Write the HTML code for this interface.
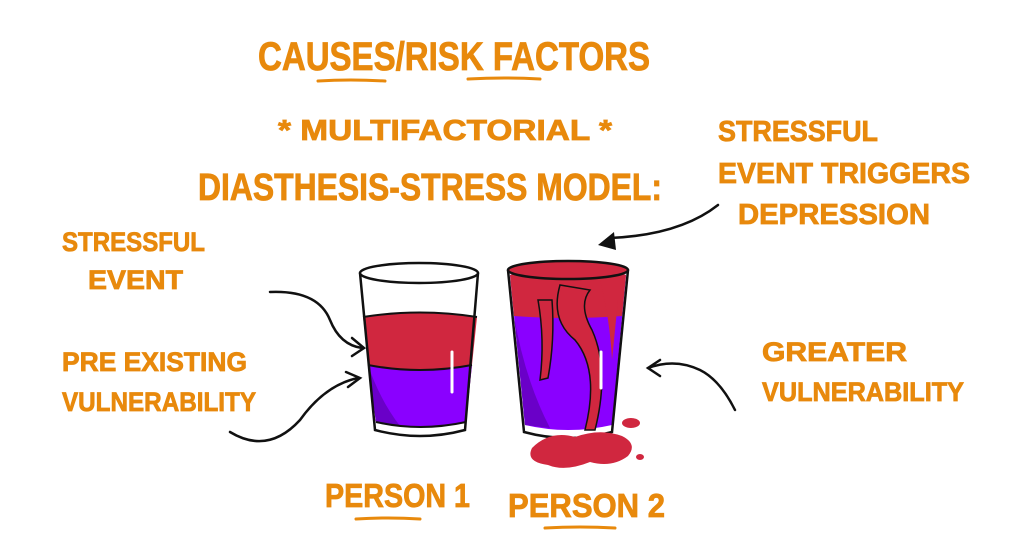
<!DOCTYPE html>
<html><head><meta charset="utf-8"><style>
html,body{margin:0;padding:0;background:#fff;}
svg{display:block}
text{font-family:"Liberation Sans",sans-serif;font-weight:bold;fill:#E8890C;stroke:#E8890C;stroke-width:0.8;}
</style></head><body>
<svg width="1024" height="542" viewBox="0 0 1024 542" xmlns="http://www.w3.org/2000/svg">
<g stroke="#E8890C" stroke-width="3" stroke-linecap="round" fill="none">
<path d="M318 81 Q350 79 385 81"/>
<path d="M468 79 Q505 77 540 79"/>
<path d="M356 519 Q388 517 420 519"/>
<path d="M545 528 Q580 526 615 528"/>
</g>
<text x="258" y="70" font-size="40" textLength="392" lengthAdjust="spacingAndGlyphs">CAUSES/RISK FACTORS</text>
<text x="278" y="140" font-size="29" textLength="334" lengthAdjust="spacingAndGlyphs">* MULTIFACTORIAL *</text>
<text x="198" y="200" font-size="38" textLength="464" lengthAdjust="spacingAndGlyphs">DIASTHESIS-STRESS MODEL:</text>
<text x="718" y="141" font-size="29" textLength="160" lengthAdjust="spacingAndGlyphs">STRESSFUL</text>
<text x="718" y="183" font-size="29" textLength="252" lengthAdjust="spacingAndGlyphs">EVENT TRIGGERS</text>
<text x="738" y="224" font-size="29" textLength="192" lengthAdjust="spacingAndGlyphs">DEPRESSION</text>
<text x="62" y="251" font-size="27" textLength="143" lengthAdjust="spacingAndGlyphs">STRESSFUL</text>
<text x="88" y="289" font-size="27" textLength="95" lengthAdjust="spacingAndGlyphs">EVENT</text>
<text x="62" y="371" font-size="27" textLength="185" lengthAdjust="spacingAndGlyphs">PRE EXISTING</text>
<text x="62" y="411" font-size="27" textLength="194" lengthAdjust="spacingAndGlyphs">VULNERABILITY</text>
<text x="762" y="361" font-size="27" textLength="145" lengthAdjust="spacingAndGlyphs">GREATER</text>
<text x="762" y="401" font-size="27" textLength="202" lengthAdjust="spacingAndGlyphs">VULNERABILITY</text>
<text x="325" y="507" font-size="33" textLength="145" lengthAdjust="spacingAndGlyphs">PERSON 1</text>
<text x="508" y="517" font-size="33" textLength="157" lengthAdjust="spacingAndGlyphs">PERSON 2</text>

<g stroke="#111" stroke-width="2.5" fill="none" stroke-linecap="round">
<path d="M270 292 Q318 290 330 320 Q340 345 362 348"/>
<path d="M352 338 L364 348 L352 356"/>
<path d="M230 432 Q268 455 300 420 Q325 385 358 378"/>
<path d="M346 372 L360 378 L348 387"/>
<path d="M718 205 Q680 235 610 238"/>
<path d="M735 410 Q720 380 700 370 Q675 358 648 368"/>
<path d="M660 360 L648 368 L660 376"/>
</g>
<path d="M598 245 L614 232 L616 250 Z" fill="#111"/>

<path d="M363 317 Q420 308 477 317 L466 422 Q420 430 376 422 Z" fill="#D0273F"/>
<path d="M368 365 Q420 375 472 365 L466 422 Q420 432 376 422 Z" fill="#8A00FF"/>
<path d="M368 365 Q380 400 400 426 L376 422 Z" fill="#6A00C8"/>
<path d="M363 317 Q420 308 477 317" stroke="#111" stroke-width="2" fill="none"/>
<path d="M368 365 Q420 375 472 365" stroke="#111" stroke-width="2" fill="none"/>
<path d="M360 273 L375 430 Q420 442 465 430 L478 273" stroke="#111" stroke-width="2.5" fill="none"/>
<ellipse cx="419" cy="273" rx="59" ry="10" fill="#fff" stroke="#111" stroke-width="2.5"/>
<path d="M376 422 Q420 432 466 422" stroke="#111" stroke-width="2" fill="none"/>
<path d="M452 352 L452 392" stroke="#fff" stroke-width="3" stroke-linecap="round"/>

<path d="M510 275 Q568 258 626 275 L612 425 Q568 435 525 425 Z" fill="#8A00FF"/>
<path d="M510 275 Q568 258 626 275 L622 316 Q568 320 514 316 Z" fill="#D0273F"/>
<path d="M514 316 Q525 380 550 428 L525 425 Z" fill="#6A00C8"/>
<path d="M538 300 Q545 340 540 380 L548 378 Q555 340 552 300 Z" fill="#D0273F" stroke="#111" stroke-width="1.5"/>
<path d="M560 285 Q550 320 575 340 Q600 370 585 430 L595 430 Q610 370 592 330 Q578 305 590 290 Z" fill="#D0273F" stroke="#111" stroke-width="1.5"/>
<path d="M600 280 Q610 320 612 360 L618 300 Z" fill="#D0273F"/>
<path d="M508 270 L524 432 Q568 444 612 432 L628 270" stroke="#111" stroke-width="2.5" fill="none"/>
<ellipse cx="568" cy="270" rx="60" ry="9" fill="#D0273F" stroke="#111" stroke-width="2.5"/>
<path d="M601 352 L601 388" stroke="#fff" stroke-width="3" stroke-linecap="round"/>
<path d="M532 448 Q550 430 575 437 Q600 428 622 436 Q638 444 628 456 Q612 468 590 462 Q565 472 548 465 Q525 462 532 448 Z" fill="#D0273F"/>
<ellipse cx="631" cy="423" rx="9" ry="5" fill="#D0273F"/>
<ellipse cx="640" cy="457" rx="4" ry="3" fill="#D0273F"/>
</svg>
</body></html>
